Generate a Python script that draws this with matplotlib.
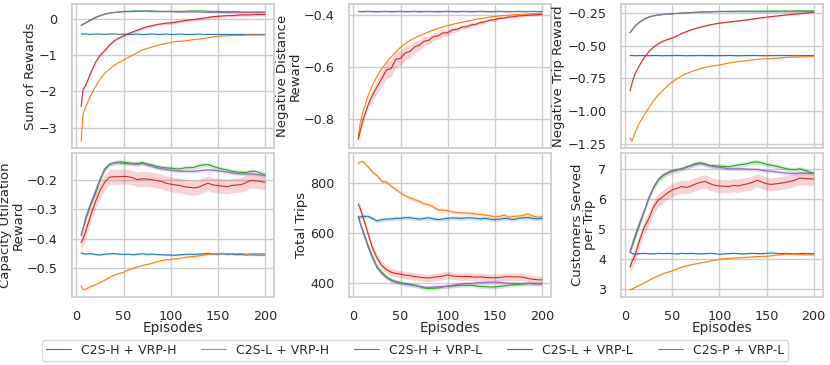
import numpy as np
import matplotlib
matplotlib.use("Agg")
import matplotlib.pyplot as plt
import seaborn as sns

# Data (moving-average curves)
episodes = [5, 7, 10, 15, 20, 25, 30, 35, 40, 45,
            50, 55, 60, 65, 70, 75, 80, 85, 90, 95,
            100, 105, 110, 115, 120, 125, 130, 135, 140, 145,
            150, 155, 160, 165, 170, 175, 180, 185, 190, 195, 200]

labels = ["C2S-H + VRP-H", "C2S-L + VRP-H", "C2S-H + VRP-L", "C2S-L + VRP-L", "C2S-P + VRP-L"]
colors = ["#1f77b4", "#ff7f0e", "#2ca02c", "#d62728", "#9467bd"]

# Sum of Rewards
sum_hh = [-0.41, -0.41, -0.41, -0.42, -0.41, -0.41, -0.42, -0.41, -0.41, -0.42,
          -0.41, -0.42, -0.42, -0.41, -0.42, -0.42, -0.41, -0.42, -0.42, -0.41,
          -0.42, -0.42, -0.41, -0.42, -0.42, -0.42, -0.41, -0.42, -0.42, -0.42,
          -0.42, -0.42, -0.42, -0.42, -0.42, -0.42, -0.42, -0.42, -0.42, -0.42, -0.42]
sum_lh = [-3.38, -2.62, -2.42, -2.12, -1.88, -1.66, -1.50, -1.38, -1.28, -1.20,
          -1.13, -1.06, -0.99, -0.92, -0.85, -0.81, -0.77, -0.73, -0.70, -0.67,
          -0.64, -0.62, -0.61, -0.60, -0.58, -0.56, -0.55, -0.53, -0.51, -0.49,
          -0.47, -0.46, -0.46, -0.45, -0.45, -0.45, -0.44, -0.44, -0.44, -0.44, -0.44]
sum_hl = [-0.17, -0.14, -0.09, -0.02, 0.05, 0.10, 0.14, 0.17, 0.19, 0.20,
          0.22, 0.22, 0.23, 0.23, 0.23, 0.23, 0.23, 0.22, 0.22, 0.22,
          0.22, 0.22, 0.22, 0.22, 0.23, 0.23, 0.23, 0.23, 0.22, 0.22,
          0.22, 0.21, 0.21, 0.21, 0.21, 0.20, 0.20, 0.20, 0.20, 0.20, 0.20]
sum_ll = [-2.42, -1.95, -1.82, -1.50, -1.20, -1.00, -0.87, -0.72, -0.60, -0.52,
          -0.46, -0.40, -0.35, -0.30, -0.25, -0.21, -0.18, -0.15, -0.13, -0.11,
          -0.10, -0.08, -0.06, -0.04, -0.02, -0.01, 0.01, 0.03, 0.05, 0.07,
          0.08, 0.09, 0.10, 0.10, 0.11, 0.12, 0.12, 0.12, 0.13, 0.13, 0.13]
sum_pl = [-0.17, -0.14, -0.10, -0.03, 0.04, 0.10, 0.14, 0.17, 0.19, 0.20,
          0.21, 0.21, 0.21, 0.22, 0.22, 0.22, 0.21, 0.21, 0.21, 0.21,
          0.21, 0.20, 0.20, 0.20, 0.20, 0.20, 0.20, 0.19, 0.19, 0.19,
          0.19, 0.18, 0.18, 0.18, 0.18, 0.18, 0.18, 0.18, 0.18, 0.18, 0.18]
sum_band = [0.005, 0.005, 0.01, 0.04, 0.01]

# Negative Distance Reward
dist_hh = [-0.383] * 41
dist_lh = [-0.877, -0.820, -0.774, -0.716, -0.671, -0.636, -0.606, -0.582, -0.561, -0.541,
           -0.523, -0.510, -0.497, -0.487, -0.478, -0.471, -0.463, -0.456, -0.450, -0.444,
           -0.439, -0.435, -0.430, -0.426, -0.422, -0.419, -0.415, -0.412, -0.409, -0.406,
           -0.404, -0.402, -0.400, -0.399, -0.397, -0.396, -0.395, -0.394, -0.393, -0.392, -0.391]
dist_hl = [-0.382] * 41
dist_ll = [-0.881, -0.850, -0.806, -0.752, -0.710, -0.677, -0.645, -0.612, -0.606, -0.570,
           -0.566, -0.545, -0.540, -0.522, -0.515, -0.500, -0.496, -0.482, -0.479, -0.468,
           -0.467, -0.456, -0.454, -0.445, -0.444, -0.437, -0.434, -0.427, -0.424, -0.418,
           -0.416, -0.411, -0.410, -0.406, -0.405, -0.402, -0.401, -0.399, -0.398, -0.397, -0.396]
dist_pl = [-0.384, -0.385, -0.386, -0.384, -0.385, -0.386, -0.385, -0.384, -0.386, -0.385,
           -0.384, -0.386, -0.385, -0.384, -0.386, -0.385, -0.384, -0.385, -0.386, -0.385,
           -0.384, -0.385, -0.386, -0.384, -0.385, -0.386, -0.385, -0.384, -0.385, -0.386,
           -0.385, -0.384, -0.385, -0.386, -0.385, -0.384, -0.385, -0.385, -0.384, -0.385, -0.385]
dist_band = [0.001, 0.002, 0.001,
             [0.008, 0.01, 0.012, 0.015, 0.02, 0.025, 0.03, 0.032, 0.032, 0.03,
              0.03, 0.028, 0.025, 0.022, 0.02, 0.018, 0.016, 0.015, 0.014, 0.013,
              0.012, 0.011, 0.01, 0.009, 0.008, 0.008, 0.007, 0.007, 0.006, 0.006,
              0.006, 0.005, 0.005, 0.005, 0.005, 0.005, 0.005, 0.005, 0.005, 0.005, 0.005],
             0.002]

# Negative Trip Reward
trip_hh = [-0.575, -0.574, -0.576, -0.575, -0.575, -0.576, -0.574, -0.575, -0.576, -0.575,
           -0.575, -0.574, -0.575, -0.576, -0.575, -0.575, -0.574, -0.575, -0.575, -0.576,
           -0.575, -0.575, -0.574, -0.575, -0.576, -0.575, -0.575, -0.574, -0.575, -0.575,
           -0.576, -0.575, -0.575, -0.574, -0.575, -0.575, -0.576, -0.575, -0.575, -0.575, -0.575]
trip_lh = [-1.204, -1.230, -1.170, -1.090, -1.030, -0.975, -0.920, -0.875, -0.840, -0.805,
           -0.776, -0.752, -0.730, -0.712, -0.698, -0.686, -0.675, -0.665, -0.657, -0.652,
           -0.647, -0.640, -0.632, -0.626, -0.621, -0.617, -0.612, -0.608, -0.604, -0.601,
           -0.599, -0.597, -0.595, -0.593, -0.590, -0.588, -0.587, -0.586, -0.585, -0.584, -0.583]
trip_hl = [-0.400, -0.380, -0.350, -0.320, -0.296, -0.280, -0.270, -0.265, -0.260, -0.257,
           -0.255, -0.252, -0.250, -0.248, -0.246, -0.244, -0.242, -0.240, -0.240, -0.238,
           -0.237, -0.237, -0.236, -0.236, -0.236, -0.235, -0.235, -0.235, -0.235, -0.235,
           -0.235, -0.234, -0.234, -0.234, -0.234, -0.234, -0.233, -0.233, -0.233, -0.233, -0.233]
trip_ll = [-0.845, -0.790, -0.720, -0.650, -0.590, -0.545, -0.510, -0.485, -0.465, -0.452,
           -0.440, -0.425, -0.405, -0.392, -0.378, -0.367, -0.357, -0.348, -0.340, -0.333,
           -0.327, -0.322, -0.318, -0.314, -0.310, -0.306, -0.301, -0.296, -0.291, -0.286,
           -0.281, -0.277, -0.273, -0.269, -0.265, -0.261, -0.258, -0.255, -0.251, -0.248, -0.245]
trip_pl = [-0.400, -0.381, -0.352, -0.321, -0.297, -0.281, -0.271, -0.266, -0.261, -0.258,
           -0.256, -0.253, -0.251, -0.249, -0.247, -0.245, -0.243, -0.242, -0.241, -0.240,
           -0.239, -0.239, -0.239, -0.239, -0.239, -0.239, -0.239, -0.240, -0.240, -0.240,
           -0.240, -0.240, -0.240, -0.240, -0.240, -0.240, -0.240, -0.240, -0.240, -0.240, -0.240]
trip_band = [0.006, 0.002, 0.002, 0.006, 0.002]

# Capacity Utilization Reward
cap_hh = [-0.448, -0.450, -0.452, -0.450, -0.453, -0.455, -0.452, -0.451, -0.450, -0.452,
          -0.453, -0.452, -0.454, -0.452, -0.451, -0.453, -0.452, -0.453, -0.454, -0.455,
          -0.455, -0.456, -0.454, -0.453, -0.452, -0.453, -0.452, -0.451, -0.449, -0.452,
          -0.452, -0.451, -0.453, -0.452, -0.454, -0.453, -0.455, -0.454, -0.455, -0.455, -0.455]
cap_lh = [-0.560, -0.572, -0.570, -0.562, -0.556, -0.548, -0.540, -0.531, -0.523, -0.518,
          -0.513, -0.506, -0.500, -0.495, -0.490, -0.487, -0.483, -0.478, -0.474, -0.471,
          -0.470, -0.468, -0.466, -0.463, -0.461, -0.460, -0.458, -0.455, -0.453, -0.451,
          -0.450, -0.449, -0.451, -0.450, -0.451, -0.450, -0.452, -0.451, -0.450, -0.451, -0.450]
cap_hl = [-0.385, -0.365, -0.334, -0.288, -0.249, -0.203, -0.167, -0.149, -0.143, -0.140,
          -0.141, -0.143, -0.145, -0.145, -0.142, -0.147, -0.150, -0.155, -0.158, -0.160,
          -0.161, -0.163, -0.164, -0.160, -0.160, -0.158, -0.153, -0.150, -0.149, -0.155,
          -0.160, -0.164, -0.167, -0.172, -0.174, -0.175, -0.176, -0.172, -0.172, -0.178, -0.183]
cap_ll = [-0.413, -0.400, -0.373, -0.322, -0.277, -0.237, -0.209, -0.192, -0.190, -0.190,
          -0.189, -0.190, -0.194, -0.200, -0.197, -0.198, -0.200, -0.203, -0.206, -0.212,
          -0.215, -0.218, -0.220, -0.224, -0.226, -0.228, -0.225, -0.218, -0.212, -0.218,
          -0.220, -0.222, -0.224, -0.220, -0.218, -0.217, -0.210, -0.203, -0.204, -0.206, -0.209]
cap_pl = [-0.390, -0.365, -0.325, -0.280, -0.240, -0.198, -0.163, -0.147, -0.144, -0.143,
          -0.145, -0.146, -0.147, -0.148, -0.145, -0.150, -0.155, -0.160, -0.163, -0.165,
          -0.168, -0.170, -0.171, -0.172, -0.172, -0.172, -0.170, -0.168, -0.167, -0.168,
          -0.170, -0.172, -0.174, -0.177, -0.179, -0.180, -0.181, -0.180, -0.182, -0.184, -0.186]
cap_band = [0.003, 0.003, 0.008, 0.025, 0.006]

# Total Trips
trips_hh = [662, 665, 668, 668, 660, 650, 655, 657, 658, 660,
            660, 663, 662, 660, 657, 660, 662, 658, 655, 658,
            660, 662, 661, 660, 662, 662, 660, 658, 660, 657,
            655, 657, 660, 658, 655, 660, 662, 663, 660, 658, 660]
trips_lh = [880, 885, 887, 868, 846, 830, 808, 805, 789, 775,
            762, 750, 741, 735, 728, 718, 714, 705, 694, 693,
            691, 686, 683, 682, 681, 680, 677, 675, 673, 670,
            666, 668, 673, 665, 668, 669, 672, 677, 670, 665, 666]
trips_hl = [669, 645, 612, 557, 509, 468, 445, 427, 414, 408,
            403, 400, 396, 393, 388, 382, 380, 381, 382, 386,
            390, 390, 392, 393, 392, 393, 390, 388, 387, 386,
            386, 388, 390, 393, 395, 396, 398, 400, 400, 399, 400]
trips_ll = [717, 700, 666, 605, 543, 502, 472, 455, 445, 440,
            437, 433, 431, 428, 425, 423, 422, 425, 427, 430,
            434, 430, 428, 427, 428, 427, 425, 426, 424, 423,
            423, 424, 426, 427, 426, 427, 425, 420, 417, 415, 414]
trips_pl = [668, 640, 605, 550, 502, 462, 440, 423, 412, 405,
            400, 397, 395, 392, 388, 385, 384, 386, 387, 388,
            388, 392, 395, 398, 400, 400, 402, 403, 404, 405,
            405, 404, 402, 401, 400, 400, 399, 400, 399, 398, 398]
trips_band = [8, 8, 8, 15, 8]

# Customers Served per Trip
cust_hh = [4.22, 4.18, 4.15, 4.17, 4.18, 4.17, 4.16, 4.18, 4.17, 4.18,
           4.17, 4.16, 4.18, 4.17, 4.18, 4.17, 4.16, 4.17, 4.18, 4.17,
           4.15, 4.16, 4.17, 4.18, 4.17, 4.16, 4.17, 4.18, 4.17, 4.17,
           4.18, 4.19, 4.18, 4.17, 4.18, 4.17, 4.16, 4.17, 4.18, 4.17, 4.17]
cust_lh = [2.96, 2.99, 3.04, 3.11, 3.19, 3.28, 3.36, 3.43, 3.50, 3.55,
           3.60, 3.66, 3.72, 3.76, 3.80, 3.83, 3.86, 3.89, 3.92, 3.95,
           3.98, 4.00, 4.01, 4.02, 4.03, 4.04, 4.05, 4.06, 4.07, 4.08,
           4.08, 4.10, 4.12, 4.13, 4.15, 4.15, 4.14, 4.14, 4.13, 4.13, 4.13]
cust_hl = [4.21, 4.40, 4.66, 5.11, 5.56, 6.02, 6.36, 6.62, 6.77, 6.86,
           6.92, 6.96, 7.00, 7.06, 7.12, 7.18, 7.20, 7.16, 7.11, 7.10,
           7.09, 7.08, 7.07, 7.10, 7.13, 7.15, 7.18, 7.22, 7.23, 7.20,
           7.15, 7.12, 7.09, 7.05, 7.01, 6.98, 6.97, 7.00, 6.95, 6.90, 6.86]
cust_ll = [3.72, 3.90, 4.09, 4.60, 5.05, 5.34, 5.73, 5.96, 6.07, 6.20,
           6.30, 6.35, 6.41, 6.38, 6.43, 6.50, 6.55, 6.58, 6.50, 6.45,
           6.43, 6.42, 6.41, 6.45, 6.43, 6.47, 6.50, 6.55, 6.62, 6.56,
           6.50, 6.48, 6.50, 6.52, 6.55, 6.58, 6.62, 6.69, 6.68, 6.67, 6.66]
cust_pl = [4.25, 4.45, 4.75, 5.20, 5.60, 6.05, 6.40, 6.65, 6.80, 6.88,
           6.95, 6.97, 7.00, 7.05, 7.10, 7.15, 7.18, 7.14, 7.10, 7.07,
           7.05, 7.03, 7.00, 7.00, 7.00, 7.00, 6.99, 6.98, 6.98, 6.95,
           6.93, 6.92, 6.90, 6.88, 6.86, 6.85, 6.84, 6.86, 6.85, 6.85, 6.85]
cust_band = [0.02, 0.02, 0.08, 0.22, 0.06]

panels = [
    ("Sum of Rewards", [sum_hh, sum_lh, sum_hl, sum_ll, sum_pl], sum_band, [-3, -2, -1, 0]),
    ("Negative Distance\nReward", [dist_hh, dist_lh, dist_hl, dist_ll, dist_pl], dist_band, [-0.8, -0.6, -0.4]),
    ("Negative Trip Reward", [trip_hh, trip_lh, trip_hl, trip_ll, trip_pl], trip_band, [-1.25, -1.0, -0.75, -0.5, -0.25]),
    ("Capacity Utilzation\nReward", [cap_hh, cap_lh, cap_hl, cap_ll, cap_pl], cap_band, [-0.5, -0.4, -0.3, -0.2]),
    ("Total Trips", [trips_hh, trips_lh, trips_hl, trips_ll, trips_pl], trips_band, [400, 600, 800]),
    ("Customers Served\nper Trip", [cust_hh, cust_lh, cust_hl, cust_ll, cust_pl], cust_band, [3, 4, 5, 6, 7]),
]

sns.set_theme(style="whitegrid")
plt.rcParams["font.family"] = ["DejaVu Sans"]

fig = plt.figure(figsize=(8.3, 3.65), dpi=100)
lefts = [0.0867, 0.4205, 0.748]
bottoms = [0.5945, 0.1863]
w, h = 0.2434, 0.3945

x = np.array(episodes)
handles = []
for i, (ylabel, series, bands, yticks) in enumerate(panels):
    r, c = divmod(i, 3)
    ax = fig.add_axes([lefts[c], bottoms[r], w, h])
    for k in range(5):
        y = np.array(series[k], dtype=float)
        b = np.asarray(bands[k], dtype=float)
        ln, = ax.plot(x, y, color=colors[k], lw=0.8, label=labels[k])
        ax.fill_between(x, y - b, y + b, color=colors[k], alpha=0.2, lw=0)
        if i == 0:
            handles.append(ln)
    ax.set_yticks(yticks)
    ax.set_xticks([0, 50, 100, 150, 200])
    ax.set_xlim(-4.75, 209.75)
    ax.tick_params(axis="y", labelsize=9.2, pad=4.5)
    ax.tick_params(axis="x", labelsize=9.2, pad=3)
    ax.set_ylabel(ylabel, fontsize=9.5, labelpad=1.5, linespacing=0.92)
    if r == 0:
        ax.set_xticklabels([])
    else:
        ax.set_xlabel("Episodes", fontsize=9.8, labelpad=-1)

fig.legend(handles, labels, loc="lower center", bbox_to_anchor=(0.5, 0.012), ncol=5,
           fontsize=9, frameon=True, handlelength=2.0, handletextpad=0.8,
           columnspacing=2.0, borderpad=0.3, borderaxespad=0)

plt.savefig("out.png", dpi=100)
